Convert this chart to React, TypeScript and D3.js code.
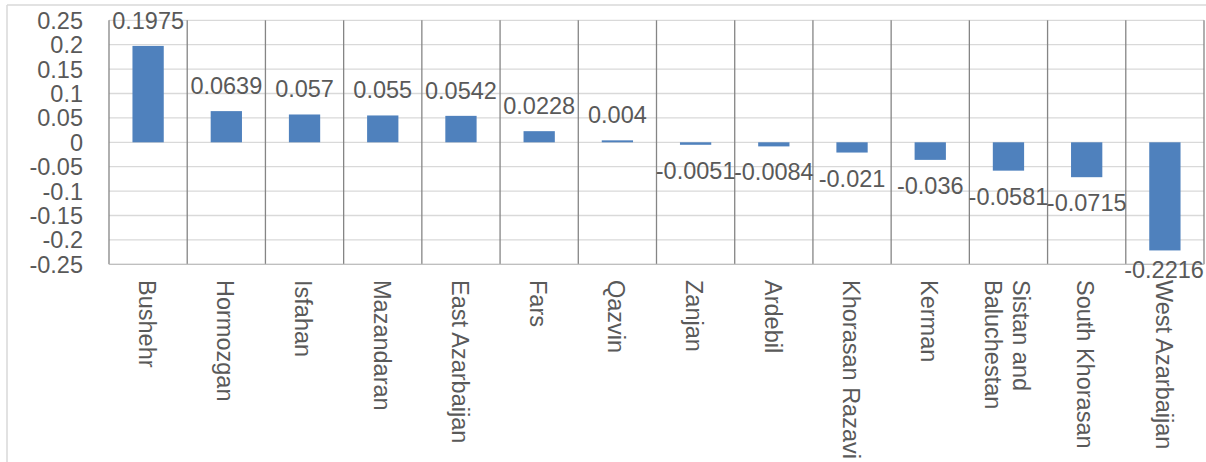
import React from "react";
import * as d3 from "d3";

const categories: string[] = [
  "Bushehr", "Hormozgan", "Isfahan", "Mazandaran", "East Azarbaijan", "Fars", "Qazvin",
  "Zanjan", "Ardebil", "Khorasan Razavi", "Kerman", "Sistan and Baluchestan", "South Khorasan", "West Azarbaijan",
];
const values: number[] = [
  0.1975, 0.0639, 0.057, 0.055, 0.0542, 0.0228, 0.004,
  -0.0051, -0.0084, -0.021, -0.036, -0.0581, -0.0715, -0.2216,
];
const valueLabels: string[] = [
  "0.1975", "0.0639", "0.057", "0.055", "0.0542", "0.0228", "0.004",
  "-0.0051", "-0.0084", "-0.021", "-0.036", "-0.0581", "-0.0715", "-0.2216",
];
const yTicks: number[] = [0.25, 0.2, 0.15, 0.1, 0.05, 0, -0.05, -0.1, -0.15, -0.2, -0.25];
const yTickLabels: string[] = ["0.25", "0.2", "0.15", "0.1", "0.05", "0", "-0.05", "-0.1", "-0.15", "-0.2", "-0.25"];
const categoryLines: string[][] = categories.map((c) =>
  c === "Sistan and Baluchestan" ? ["Sistan and", "Baluchestan"] : [c]
);

const W = 1206;
const H = 462;
const FONT = "'Liberation Sans', Arial, sans-serif";
const TEXT = "#595959";

export default function App() {
  const left = 109;
  const right = 1204;
  const top = 20.3;
  const bottom = 264.3;
  const x = d3.scaleBand<string>().domain(categories).range([left, right]).paddingInner(0).paddingOuter(0);
  const y = d3.scaleLinear().domain([-0.25, 0.25]).range([bottom, top]);
  const bw = x.bandwidth();
  const barW = bw * 0.4;
  const fs = 23.5;

  return (
    <svg width={W} height={H} style={{ position: "absolute", left: 0, top: 0, display: "block" }}>
      <rect x={0} y={0} width={W} height={H} fill="#fff" />
      {/* chart frame */}
      <line x1={7} y1={5} x2={W} y2={5} stroke="#d9d9d9" strokeWidth={1.5} />
      <line x1={7} y1={5} x2={7} y2={H} stroke="#d9d9d9" strokeWidth={1.5} />
      {/* horizontal gridlines */}
      {yTicks.map((t) => (
        <line key={"g" + t} x1={left} x2={right} y1={y(t)} y2={y(t)} stroke="#d9d9d9" strokeWidth={1.3} />
      ))}
      {/* vertical category lines */}
      {categories.map((c) => (
        <line key={"v" + c} x1={x(c)!} x2={x(c)!} y1={top} y2={bottom} stroke="#858585" strokeWidth={1.3} />
      ))}
      <line x1={right} x2={right} y1={top} y2={bottom} stroke="#858585" strokeWidth={1.3} />
      <line x1={left} x2={right} y1={bottom} y2={bottom} stroke="#bfbfbf" strokeWidth={1.3} />
      {/* bars */}
      {values.map((v, i) => {
        const c = categories[i];
        const cx = x(c)! + bw / 2;
        const y0 = y(0);
        const y1 = y(v);
        return (
          <rect key={"b" + c} x={cx - barW / 2} y={Math.min(y0, y1)} width={barW}
            height={Math.max(1.5, Math.abs(y1 - y0))} fill="#4f81bd" />
        );
      })}
      {/* value labels */}
      {values.map((v, i) => {
        const c = categories[i];
        let cx = x(c)! + bw / 2;
        const yy = v >= 0 ? y(v) - 17 : Math.min(y(v) + 34, 278);
        if (cx + 40 > W - 2) cx = W - 2 - 40;
        return (
          <text key={"l" + c} x={cx} y={yy} textAnchor="middle" fontFamily={FONT} fontSize={fs} fill={TEXT}>
            {valueLabels[i]}
          </text>
        );
      })}
      {/* y tick labels */}
      {yTicks.map((t, i) => (
        <text key={"t" + t} x={83} y={y(t)} dy="0.36em" textAnchor="end" fontFamily={FONT} fontSize={fs} fill={TEXT}>
          {yTickLabels[i]}
        </text>
      ))}
      {/* category labels */}
      {categories.map((c, i) => {
        const lines = categoryLines[i];
        const cx = x(c)! + bw / 2 - 1;
        const lh = 28;
        return (
          <g key={"c" + c} transform={`translate(${cx},280) rotate(90)`}>
            {lines.map((ln, j) => (
              <text key={j} x={0} y={(j - (lines.length - 1) / 2) * lh} dy="0.35em" fontFamily={FONT}
                fontSize={fs} fill={TEXT}>
                {ln}
              </text>
            ))}
          </g>
        );
      })}
    </svg>
  );
}
